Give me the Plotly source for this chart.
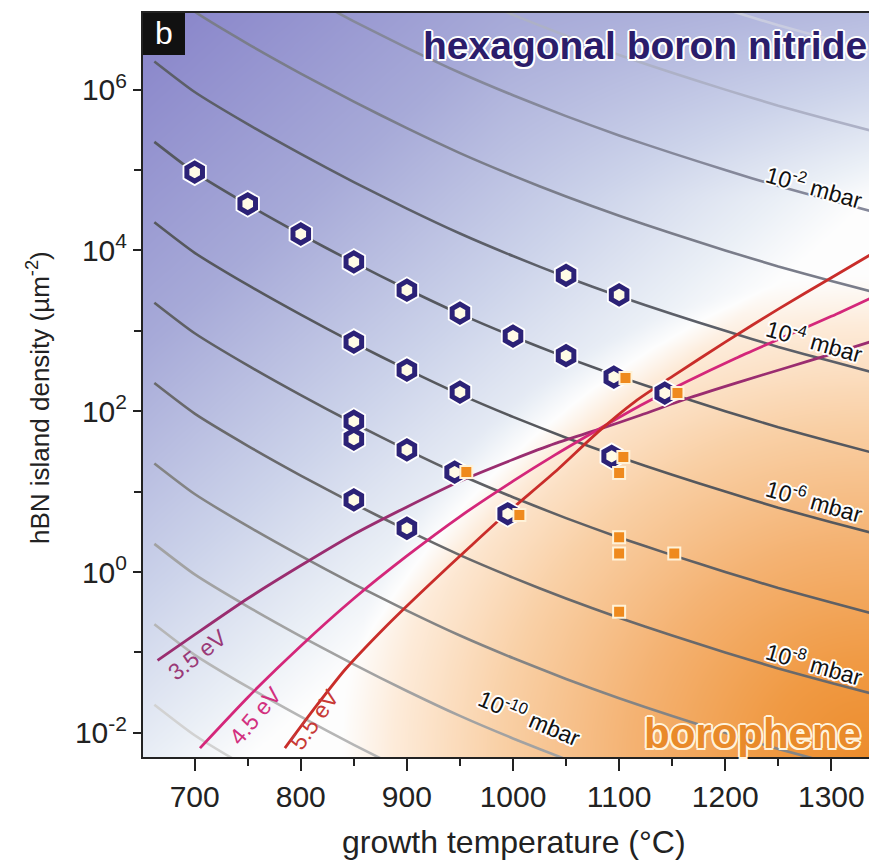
import numpy as np
import plotly.graph_objects as go

FONT = "Liberation Sans, Arial, Helvetica, sans-serif"

# ---------------- data ----------------
# isobars: log10(island density) sampled at these temperatures
ISO_T = [662, 700, 750, 800, 850, 900, 950, 1000, 1050, 1100, 1150, 1200, 1250, 1300, 1340]
ISO_1e0 = [10.35, 9.97, 9.57, 9.20, 8.85, 8.52, 8.21, 7.93, 7.67, 7.43, 7.21, 7.00, 6.80, 6.62, 6.48]
ISO_1e_1 = [9.35, 8.97, 8.57, 8.20, 7.85, 7.52, 7.21, 6.93, 6.67, 6.43, 6.21, 6.00, 5.80, 5.62, 5.48]
ISO_1e_2 = [8.35, 7.97, 7.57, 7.20, 6.85, 6.52, 6.21, 5.93, 5.67, 5.43, 5.21, 5.00, 4.80, 4.62, 4.48]
ISO_1e_3 = [7.35, 6.97, 6.57, 6.20, 5.85, 5.52, 5.21, 4.93, 4.67, 4.43, 4.21, 4.00, 3.80, 3.62, 3.48]
ISO_1e_4 = [6.35, 5.97, 5.57, 5.20, 4.85, 4.52, 4.21, 3.93, 3.67, 3.43, 3.21, 3.00, 2.80, 2.62, 2.48]
ISO_1e_5 = [5.35, 4.97, 4.57, 4.20, 3.85, 3.52, 3.21, 2.93, 2.67, 2.43, 2.21, 2.00, 1.80, 1.62, 1.48]
ISO_1e_6 = [4.35, 3.97, 3.57, 3.20, 2.85, 2.52, 2.21, 1.93, 1.67, 1.43, 1.21, 1.00, 0.80, 0.62, 0.48]
ISO_1e_7 = [3.35, 2.97, 2.57, 2.20, 1.85, 1.52, 1.21, 0.93, 0.67, 0.43, 0.21, 0.00, -0.20, -0.38, -0.52]
ISO_1e_8 = [2.35, 1.97, 1.57, 1.20, 0.85, 0.52, 0.21, -0.07, -0.33, -0.57, -0.79, -1.00, -1.20, -1.38, -1.52]
ISO_1e_9 = [1.35, 0.97, 0.57, 0.20, -0.15, -0.48, -0.79, -1.07, -1.33, -1.57, -1.79, -2.00, -2.20, -2.38, -2.52]
ISO_1e_10 = [0.35, -0.03, -0.43, -0.80, -1.15, -1.48, -1.79, -2.07, -2.33, -2.57, -2.79, -3.00, -3.20, -3.38, -3.52]
ISO_1e_11 = [-0.65, -1.03, -1.43, -1.80, -2.15, -2.48, -2.79, -3.07, -3.33, -3.57, -3.79, -4.00, -4.20, -4.38, -4.52]
ISO_1e_12 = [-1.65, -2.03, -2.43, -2.80, -3.15, -3.48, -3.79, -4.07, -4.33, -4.57, -4.79, -5.00, -5.20, -5.38, -5.52]

ISOBARS = [ISO_1e0, ISO_1e_1, ISO_1e_2, ISO_1e_3, ISO_1e_4, ISO_1e_5, ISO_1e_6,
           ISO_1e_7, ISO_1e_8, ISO_1e_9, ISO_1e_10, ISO_1e_11, ISO_1e_12]
ISO_COLORS = ["#c9cce0", "#adb1c6", "#85889a", "#7a7d8a", "#5c5f68", "#55585f", "#56585d",
              "#5f6064", "#69696b", "#848484", "#a2a2a2", "#b6b6b6", "#d2d2d2"]

# activation-energy boundaries: temperature, log10(density)
E35_T = [665, 700, 750, 800, 850, 900, 950, 1000, 1040, 1080, 1120, 1167, 1210, 1260, 1300, 1336]
E35_L = [-1.10, -0.78, -0.33, 0.08, 0.47, 0.81, 1.13, 1.40, 1.60, 1.77, 1.95, 2.17, 2.35, 2.55, 2.71, 2.86]
E45_T = [705, 750, 800, 850, 900, 950, 1000, 1040, 1080, 1120, 1164, 1210, 1260, 1300, 1336]
E45_L = [-2.19, -1.56, -0.92, -0.33, 0.20, 0.69, 1.13, 1.46, 1.77, 2.07, 2.37, 2.66, 2.95, 3.18, 3.40]
E55_T = [785, 815, 842, 880, 920, 960, 994, 1040, 1080, 1115, 1151, 1200, 1250, 1300, 1336]
E55_L = [-2.19, -1.66, -1.21, -0.68, -0.17, 0.32, 0.73, 1.25, 1.74, 2.12, 2.44, 2.86, 3.27, 3.66, 3.94]

# hBN islands (hexagons)
HEX_T = [700, 750, 800, 850, 900, 950, 1000, 1050, 1095, 1143,
         1050, 1100, 850, 900, 950, 850, 850, 900, 945, 995, 1093, 850, 900]
HEX_N = [9.4e4, 3.8e4, 1.6e4, 7.2e3, 3.2e3, 1.66e3, 860, 490, 265, 168,
         4.9e3, 2.8e3, 725, 325, 173, 75, 45, 33, 17.5, 5.3, 27.5, 7.9, 3.5]
# borophene (squares)
SQ_T = [1106, 1155, 956, 1006, 1104, 1100, 1100, 1100, 1152, 1100]
SQ_N = [259, 168, 17.5, 5.1, 27, 17, 2.7, 1.7, 1.7, 0.32]

X_TICKS = [700, 800, 900, 1000, 1100, 1200, 1300]
Y_LABEL_EXP = [-2, 0, 2, 4, 6]
Y_MINOR_EXP = [-1, 1, 3, 5]

X_RANGE = [651.3, 1335.5]
Y_RANGE = [-2.301, 6.953]

fig = go.Figure()

# ---------------- background gradient (styling only) ----------------
gx = np.linspace(X_RANGE[0], X_RANGE[1], 110)
gl = np.linspace(Y_RANGE[0], Y_RANGE[1], 110)
U, V = np.meshgrid((gx - X_RANGE[0]) / (X_RANGE[1] - X_RANGE[0]),
                   (gl - Y_RANGE[0]) / (Y_RANGE[1] - Y_RANGE[0]))
# blue: linear wash from the upper left
S = (0.878 * U - V - 0.129) / 1.129
TOPB = 0.25 * np.clip((V - 0.75) / 0.25, 0, 1) * np.clip((U - 0.5) / 0.5, 0, 1)
B = np.clip(-S, 0, 1) + TOPB * (S < 0.05)
# orange: elliptical glow from the lower right corner (in pixels)
DX = (1 - U) * 726 / 1.1
DY = V * 744
O = np.clip(1 - np.sqrt(DX ** 2 + DY ** 2) / 480, 0, 1)
Z = np.clip(O - B, -1, 1)
cscale = [
    [0.00, "#8783c9"], [0.20, "#a7aad8"], [0.35, "#ccd3ea"], [0.45, "#eaeff6"],
    [0.50, "#fdfdfd"], [0.55, "#fdebd9"], [0.65, "#f9d0a6"], [0.775, "#f4b272"],
    [0.90, "#f09a44"], [1.00, "#ec8c2c"],
]
fig.add_trace(go.Heatmap(x=gx, y=10 ** gl, z=Z, zmin=-1, zmax=1, colorscale=cscale,
                         zsmooth="best", showscale=False, hoverinfo="skip"))

# ---------------- isobars ----------------
for vals, col in zip(ISOBARS, ISO_COLORS):
    fig.add_trace(go.Scatter(x=ISO_T, y=[10 ** v for v in vals], mode="lines",
                             line=dict(color=col, width=2.6, shape="spline", smoothing=0.6),
                             hoverinfo="skip"))

# ---------------- energy lines ----------------
for tt, ll, col in [(E35_T, E35_L, "#9a2d70"), (E45_T, E45_L, "#d4277a"), (E55_T, E55_L, "#c92d2a")]:
    fig.add_trace(go.Scatter(x=tt, y=[10 ** v for v in ll], mode="lines",
                             line=dict(color=col, width=2.8, shape="spline", smoothing=0.6),
                             hoverinfo="skip"))

# ---------------- markers ----------------
fig.add_trace(go.Scatter(x=HEX_T, y=HEX_N, mode="markers",
                         marker=dict(symbol="hexagon", size=28, color="#ffffff", line=dict(width=0)),
                         hoverinfo="skip"))
fig.add_trace(go.Scatter(x=HEX_T, y=HEX_N, mode="markers",
                         marker=dict(symbol="hexagon", size=18, color="#fffbe6",
                                     line=dict(width=5, color="#2c2277")),
                         hoverinfo="skip"))
fig.add_trace(go.Scatter(x=SQ_T, y=SQ_N, mode="markers",
                         marker=dict(symbol="square", size=12, color="#ef8a1d",
                                     line=dict(width=2, color="#fff2d8")),
                         hoverinfo="skip"))

# invisible trace to carry the odd-decade ticks on the overlaying axis
fig.add_trace(go.Scatter(x=[X_RANGE[0]], y=[1.0], yaxis="y2", mode="markers",
                         marker=dict(size=1, opacity=0), hoverinfo="skip"))

# ---------------- text ----------------
WHITE_HALO = ("2px 0 0 #fff, -2px 0 0 #fff, 0 2px 0 #fff, 0 -2px 0 #fff, "
              "1.5px 1.5px 0 #fff, -1.5px -1.5px 0 #fff, 1.5px -1.5px 0 #fff, -1.5px 1.5px 0 #fff")
CREAM_HALO = WHITE_HALO.replace("#fff", "#fff3dc")


def px2paper(px, py):
    return (px - 143) / 726, (757 - py) / 744


ann = []
iso_labels = [("10<sup>-2</sup> mbar", 1284, 4.80, 16), ("10<sup>-4</sup> mbar", 1284, 2.88, 16),
              ("10<sup>-6</sup> mbar", 1284, 0.89, 16), ("10<sup>-8</sup> mbar", 1284, -1.13, 16),
              ("10<sup>-10</sup> mbar", 1016, -1.80, 23)]
for txt, tx, ty, ang in iso_labels:
    ann.append(dict(x=tx, y=ty, xref="x", yref="y", text=txt, showarrow=False, textangle=ang,
                    xanchor="center", yanchor="middle",
                    font=dict(family=FONT, size=23, color="#111111", shadow=WHITE_HALO)))

ev_labels = [("3.5 eV", 197, 655, -38, "#9a3a78"), ("4.5 eV", 255, 716, -50, "#d2307f"),
             ("5.5 eV", 314, 720, -55, "#c83a36")]
for txt, px, py, ang, col in ev_labels:
    ax, ay = px2paper(px, py)
    ann.append(dict(x=ax, y=ay, xref="paper", yref="paper", text=txt, xanchor="center",
                    yanchor="middle", showarrow=False, textangle=ang,
                    font=dict(family=FONT, size=23, color=col)))

ax, ay = px2paper(421, 46)
ann.append(dict(x=ax, y=ay, xref="paper", yref="paper",
                xanchor="left", yanchor="middle", text="<b>hexagonal boron nitride</b>", showarrow=False,
                font=dict(family=FONT, size=39, color="#2b1d6b", shadow=WHITE_HALO)))
ax, ay = px2paper(752, 733)
ann.append(dict(x=ax, y=ay, xref="paper", yref="paper", xanchor="center", yanchor="middle",
                text="<b>borophene</b>", showarrow=False,
                font=dict(family=FONT, size=42, color="#e98a2a", shadow=CREAM_HALO)))
ax, ay = px2paper(164, 33)
ann.append(dict(x=ax, y=ay, xref="paper", yref="paper", xanchor="center", yanchor="middle",
                text="b", showarrow=False, font=dict(family=FONT, size=32, color="#ffffff")))
ax, ay = px2paper(514, 842)
ann.append(dict(x=ax, y=ay, xref="paper", yref="paper", xanchor="center", yanchor="middle",
                text="growth temperature (°C)", showarrow=False,
                font=dict(family=FONT, size=32, color="#222222")))
ax, ay = px2paper(38, 398)
ann.append(dict(x=ax, y=ay, xref="paper", yref="paper",
                text="hBN island density (µm<sup>-2</sup>)", showarrow=False, textangle=-90,
                xanchor="center", yanchor="middle",
                font=dict(family=FONT, size=26, color="#222222")))

bx0, by1 = px2paper(143, 13)
bx1, by0 = px2paper(185, 55)

fig.update_layout(
    width=869, height=863,
    margin=dict(l=143, r=0, t=13, b=106),
    paper_bgcolor="#ffffff", plot_bgcolor="#ffffff",
    showlegend=False,
    annotations=ann,
    shapes=[dict(type="rect", xref="paper", yref="paper", x0=bx0, x1=bx1,
                 y0=by0, y1=by1, fillcolor="#111111", line=dict(width=0), layer="above")],
    xaxis=dict(range=X_RANGE, tickvals=X_TICKS, ticktext=[str(v) for v in X_TICKS],
               ticks="outside", ticklen=12, tickwidth=2, tickcolor="#222",
               minor=dict(dtick=50, tick0=650, ticks="outside", ticklen=7, tickwidth=2, tickcolor="#222"),
               showline=True, linecolor="#222", linewidth=2, mirror=True,
               showgrid=False, zeroline=False,
               tickfont=dict(family=FONT, size=30, color="#222222")),
    yaxis=dict(type="log", range=Y_RANGE,
               tickvals=[10 ** e for e in Y_LABEL_EXP],
               ticktext=["10<sup>%d</sup>" % e for e in Y_LABEL_EXP],
               ticks="outside", ticklen=8, tickwidth=2, tickcolor="#222",
               showline=True, linecolor="#222", linewidth=2,
               showgrid=False, zeroline=False,
               tickfont=dict(family=FONT, size=30, color="#222222")),
    yaxis2=dict(type="log", range=Y_RANGE, overlaying="y", side="left",
                tickvals=[10 ** e for e in Y_MINOR_EXP], showticklabels=False,
                ticks="outside", ticklen=8, tickwidth=2, tickcolor="#222",
                showline=False, showgrid=False, zeroline=False),
)

fig.write_html("out.html")
